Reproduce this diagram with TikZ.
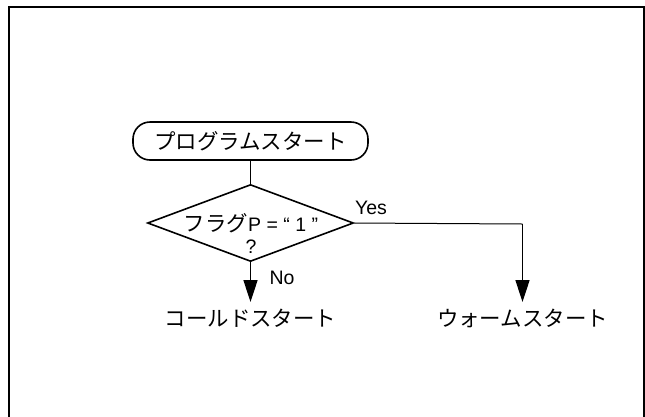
\documentclass[tikz,border=0pt]{standalone}
\usepackage{fontspec}
\setmainfont{Liberation Sans}
\newfontfamily\jp[Scale=1.1]{Noto Sans CJK JP}
\usepackage{tikz}
\usetikzlibrary{arrows.meta, positioning, shapes.geometric}

\begin{document}
\begin{tikzpicture}[x=1pt, y=-1pt, font=\fontsize{19.5}{22}\selectfont,
		terminal/.style={draw, line width=1.6pt, rectangle, rounded corners=17pt, minimum width=235pt, minimum height=38pt, inner sep=0pt},
		decision/.style={draw, line width=1.6pt, diamond, minimum width=206pt, minimum height=77pt, inner sep=0pt},
		label/.style={inner sep=0pt, outer sep=0pt},
		result/.style={anchor=north, inner xsep=0pt, inner ysep=7pt, outer sep=0pt},
		flow/.style={line width=1.6pt, -{Triangle[length=22pt, width=14pt]}}]
		\useasboundingbox (0,0) rectangle (645,416);
		% Frame
		\draw[line width=2pt] (9,7) rectangle (644,430);
		% Start
		\node[terminal] (start) at (250.5,141) {\jp プログラムスタート};
		% Flag check
		\node[decision] (flag) at (250.5,223) {};
		\node[label, align=center] (flagtext) at (251,233) {{\jp フラグ}P = “ 1 ”\\?};
		\draw[line width=1.6pt] (start) -- (flag);
		% Results
		\node[result] (cold) at (250.5,302) {\jp コールドスタート};
		\node[result] (warm) at (522.5,302) {\jp ウォームスタート};
		\coordinate (corner) at (522.5,224);
		% Branches
		\draw[flow] (flag.south) -- (cold.north);
		\node[label] (no) at (282,278) {No};
		\draw[line width=1pt] (flag.east) -- (corner);
		\draw[flow] (corner) -- (warm.north);
		\node[label] (yes) at (371,208) {Yes};
	\end{tikzpicture}
\end{document}
